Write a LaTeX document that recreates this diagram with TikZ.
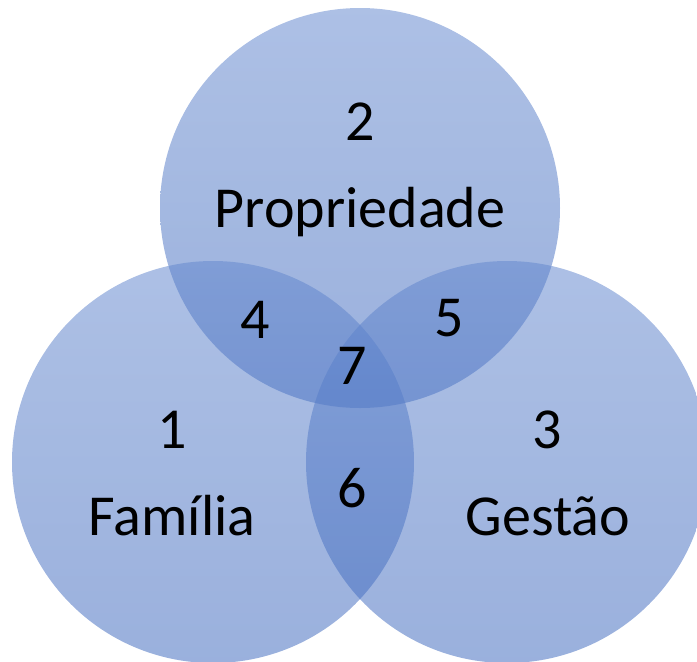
\documentclass[tikz,border=0pt]{standalone}
\usepackage{fontspec}
\setmainfont{Carlito}
\usepackage{tikz}

\definecolor{vennlight}{RGB}{100,136,206}
\definecolor{venndark}{RGB}{64,106,190}
\tikzset{
  set/.style={top color=vennlight, bottom color=venndark, draw=none, fill opacity=0.53},
  lbl/.style={font=\fontsize{58}{60}\selectfont, text=black}
}

\begin{document}
\begin{tikzpicture}[x=1pt, y=-1pt]
	\useasboundingbox (0,0) rectangle (697,662);
	% the three sets
	\path[set] (360,208) circle (200pt);
	\path[set] (213,462) circle (201pt);
	\path[set] (507,462) circle (201pt);

	\node[lbl] (n2) at (360,122) {2};
	\node[lbl] (prop) at (360,212) {Propriedade};
	\node[lbl] (n1) at (172,430) {1};
	\node[lbl] (fam) at (172,516) {Família};
	\node[lbl] (n3) at (547,430) {3};
	\node[lbl] (gest) at (548,516) {Gestão};
	\node[lbl] (n4) at (255,320) {4};
	\node[lbl] (n5) at (449,318) {5};
	\node[lbl] (n7) at (352,366) {7};
	\node[lbl] (n6) at (352,488) {6};
\end{tikzpicture}
\end{document}
